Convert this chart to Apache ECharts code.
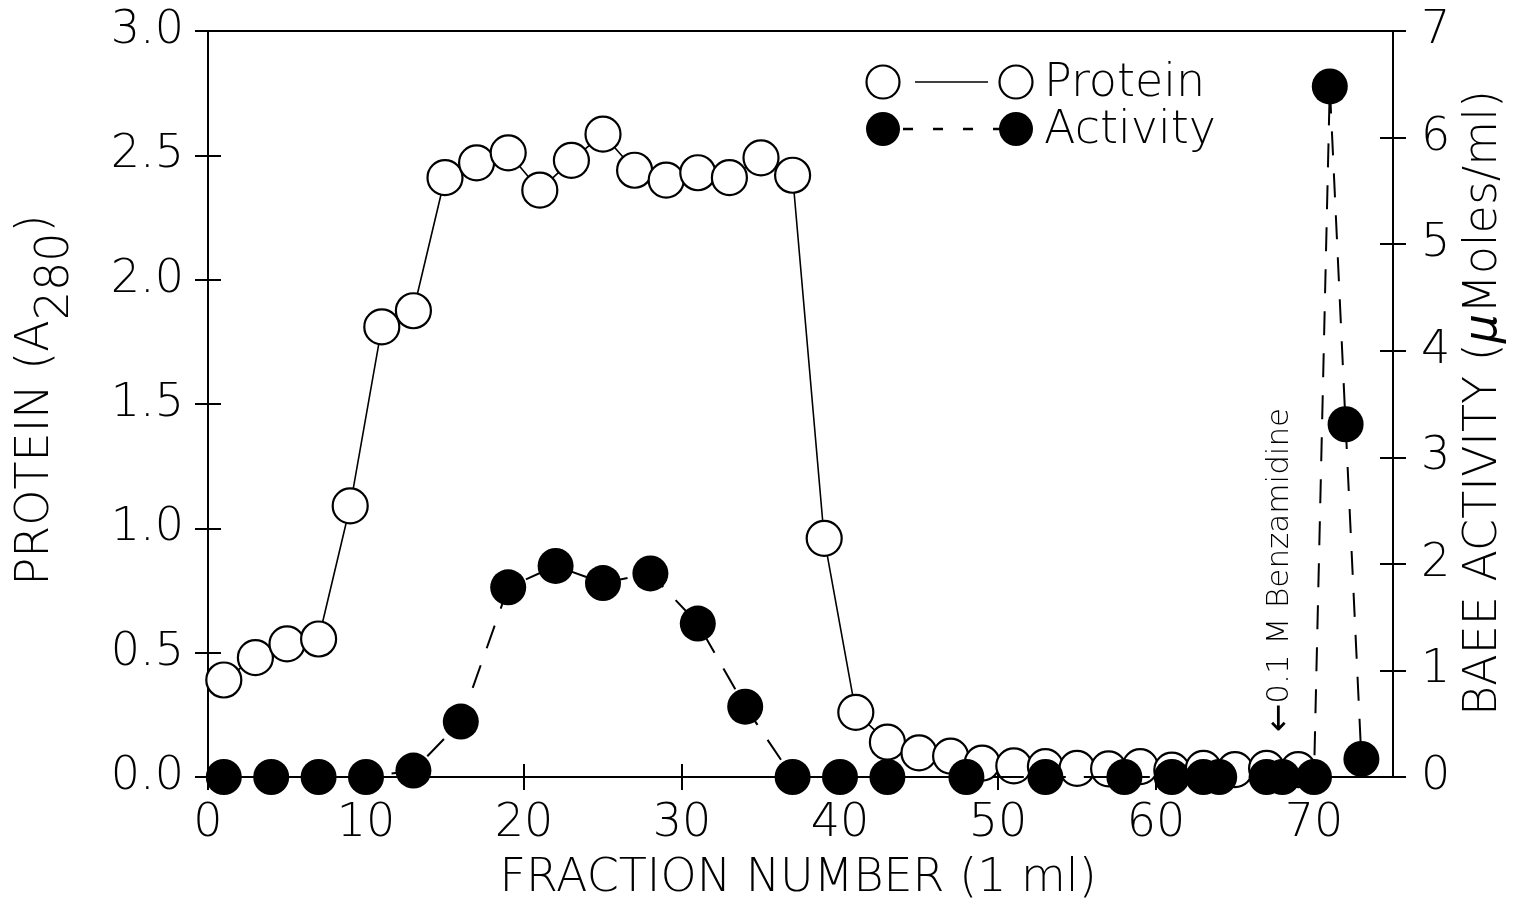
<!DOCTYPE html>
<html><head><meta charset="utf-8">
<script src="https://cdn.jsdelivr.net/npm/echarts@6/dist/echarts.min.js"></script>
<style>html,body{margin:0;padding:0;background:#fff}#c{width:1527px;height:911px}</style>
</head><body><div id="c"></div>
<script>
// ---- data ----
const proteinFraction = [1,3,5,7,9,11,13,15,17,19,21,23,25,27,29,31,33,35,37,39,41,43,45,47,49,51,53,55,57,59,61,63,65,67,69];
const proteinA280 = [0.39,0.48,0.535,0.555,1.09,1.81,1.875,2.41,2.47,2.51,2.36,2.48,2.585,2.44,2.40,2.43,2.41,2.49,2.42,0.96,0.26,0.14,0.097,0.084,0.056,0.045,0.042,0.035,0.033,0.042,0.028,0.035,0.03,0.035,0.03];
const activityFraction = [1,4,7,10,13,16,19,22,25,28,31,34,37,40,43,48,53,58,61,63,64,67,68,70,71,72,73];
const activityBAEE = [0,0,0,0,0.06,0.52,1.78,1.98,1.82,1.91,1.44,0.66,0,0,0,0,0,0,0,0,0,0,0,0,6.48,3.31,0.17];
const xTicks = [0,10,20,30,40,50,60,70];
const proteinTicks = [0,0.5,1,1.5,2,2.5,3];
const activityTicks = [0,1,2,3,4,5,6,7];
const xTitle = 'FRACTION NUMBER (1 ml)';
const annotationText = '0.1 M Benzamidine';

const FONT = 'DejaVu Sans';
const FW = 200;
const BLACK = '#000';
const axLine = {show:true, onZero:false, lineStyle:{color:BLACK, width:2}};
const tickStyle = {color:BLACK, width:2};
const labelStyle = {color:BLACK, fontSize:46, fontFamily:FONT, fontWeight:FW};

const chart = echarts.init(document.getElementById('c'), null, {renderer:'canvas'});
const option = {
  animation:false,
  backgroundColor:'#fff',
  textStyle:{fontFamily:FONT, fontWeight:FW, color:BLACK},
  grid:{left:208, right:134, top:31, bottom:134, containLabel:false},
  xAxis:[
    {type:'value', min:0, max:75, position:'bottom', axisLine:axLine,
     axisTick:{show:true, inside:false, length:13, lineStyle:tickStyle, customValues:xTicks},
     axisLabel:Object.assign({customValues:xTicks, margin:24}, labelStyle),
     splitLine:{show:false}},
    {type:'value', min:0, max:75, position:'bottom', axisLine:{show:false, onZero:false},
     axisTick:{show:true, inside:true, length:13, lineStyle:tickStyle, customValues:xTicks},
     axisLabel:{show:false}, splitLine:{show:false}},
    {type:'value', min:0, max:75, position:'top', axisLine:axLine,
     axisTick:{show:false}, axisLabel:{show:false}, splitLine:{show:false}}
  ],
  yAxis:[
    {type:'value', min:0, max:3, position:'left', axisLine:axLine,
     axisTick:{show:true, inside:false, length:13, lineStyle:tickStyle, customValues:proteinTicks},
     axisLabel:Object.assign({customValues:proteinTicks, margin:24, formatter:v=>v.toFixed(1)}, labelStyle),
     splitLine:{show:false}},
    {type:'value', min:0, max:7, position:'right', axisLine:axLine,
     axisTick:{show:true, inside:false, length:13, lineStyle:tickStyle, customValues:activityTicks},
     axisLabel:Object.assign({customValues:activityTicks, margin:28}, labelStyle),
     splitLine:{show:false}},
    {type:'value', min:0, max:3, position:'left', axisLine:{show:false, onZero:false},
     axisTick:{show:true, inside:true, length:13, lineStyle:tickStyle, customValues:proteinTicks},
     axisLabel:{show:false}, splitLine:{show:false}},
    {type:'value', min:0, max:7, position:'right', axisLine:{show:false, onZero:false},
     axisTick:{show:true, inside:true, length:13, lineStyle:tickStyle, customValues:activityTicks},
     axisLabel:{show:false}, splitLine:{show:false}}
  ],
  series:[
    {name:'Protein', type:'line', xAxisIndex:0, yAxisIndex:0,
     data:proteinFraction.map((x,i)=>[x, proteinA280[i]]),
     symbol:'circle', symbolSize:35, z:2, silent:true,
     itemStyle:{color:'#fff', borderColor:BLACK, borderWidth:2.2},
     lineStyle:{color:BLACK, width:1.6}, emphasis:{disabled:true}},
    {name:'Activity', type:'line', xAxisIndex:0, yAxisIndex:1,
     data:activityFraction.map((x,i)=>[x, activityBAEE[i]]),
     symbol:'circle', symbolSize:36, z:3, silent:true,
     itemStyle:{color:BLACK, borderWidth:0},
     lineStyle:{color:BLACK, width:2, type:[24,18]}, emphasis:{disabled:true}}
  ],
  graphic:[
    // legend
    {type:'line', shape:{x1:915,y1:82,x2:988,y2:82}, style:{stroke:BLACK, lineWidth:1.6}},
    {type:'circle', shape:{cx:883,cy:82,r:16.5}, style:{fill:'#fff', stroke:BLACK, lineWidth:2.2}},
    {type:'circle', shape:{cx:1016,cy:82,r:16.5}, style:{fill:'#fff', stroke:BLACK, lineWidth:2.2}},
    {type:'text', x:1044, y:84, style:{text:'Protein', fontSize:46, fontFamily:FONT, fontWeight:FW, fill:BLACK, align:'left', verticalAlign:'middle'}},
    {type:'line', shape:{x1:903,y1:129,x2:1000,y2:129}, style:{stroke:BLACK, lineWidth:2.5, lineDash:[10,20]}},
    {type:'circle', shape:{cx:883,cy:129,r:17}, style:{fill:BLACK}},
    {type:'circle', shape:{cx:1016,cy:129,r:17}, style:{fill:BLACK}},
    {type:'text', x:1044, y:131, style:{text:'Activity', fontSize:46, fontFamily:FONT, fontWeight:FW, fill:BLACK, align:'left', verticalAlign:'middle'}},
    // axis titles
    {type:'text', x:798, y:879, style:{text:xTitle, fontSize:46, fontFamily:FONT, fontWeight:FW, fill:BLACK, align:'center', verticalAlign:'middle'}},
    {type:'text', x:36, y:400, rotation:Math.PI/2,
     style:{text:'{a|PROTEIN (A}{s|280}{a|)}', align:'center', verticalAlign:'middle',
       rich:{a:{fontSize:46, fontFamily:FONT, fontWeight:FW, fill:BLACK},
             s:{fontSize:46, fontFamily:FONT, fontWeight:FW, fill:BLACK, padding:[40,0,0,0]}}}},
    {type:'text', x:1484, y:403, rotation:Math.PI/2,
     style:{text:'{a|BAEE ACTIVITY (}{m|\u03bc}{a|Moles/ml)}', align:'center', verticalAlign:'middle',
       rich:{a:{fontSize:46, fontFamily:FONT, fontWeight:FW, fill:BLACK},
             m:{fontSize:46, fontFamily:FONT, fontWeight:FW, fontStyle:'italic', fill:BLACK}}}},
    // annotation
    {type:'text', x:1280, y:570, rotation:Math.PI/2,
     style:{text:'{r|\u2190}{t|' + annotationText + '}', align:'center', verticalAlign:'middle',
       rich:{r:{fontSize:34, fontFamily:FONT, fontWeight:'normal', fill:BLACK},
             t:{fontSize:31, fontFamily:FONT, fontWeight:FW, fill:BLACK}}}}
  ]
};
chart.setOption(option);
</script>
</body></html>
